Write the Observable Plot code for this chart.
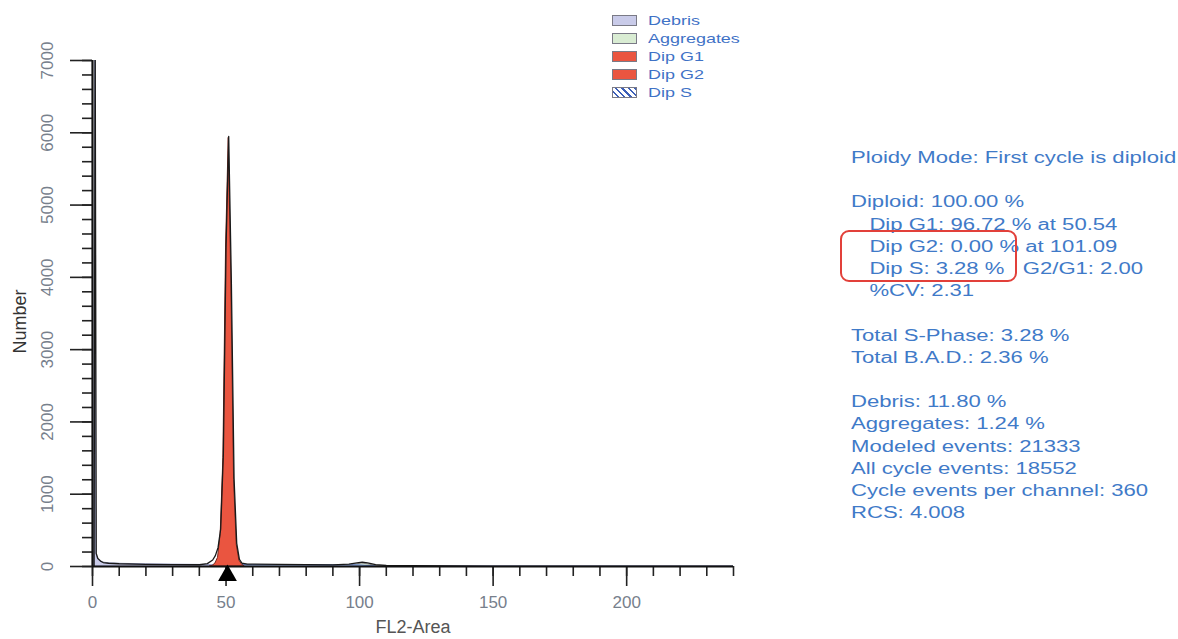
<!DOCTYPE html>
<html>
<head>
<meta charset="utf-8">
<script src="https://cdn.jsdelivr.net/npm/d3@7"></script>
<script src="https://cdn.jsdelivr.net/npm/@observablehq/plot@0.6"></script>
<style>
  body { margin: 0; background: #fff; font-family: "Liberation Sans", Arial, sans-serif; }
  #wrap { position: relative; width: 1178px; height: 639px; overflow: hidden; }
  #chart { position: absolute; left: 0; top: 0; }
  .legend { position: absolute; left: 612px; top: 11px; font-size: 13.5px; color: #3f72c6; }
  .legend .row { height: 18px; display: flex; align-items: center; }
  .legend .sw { width: 25px; height: 11px; box-sizing: border-box; border: 1.5px solid #7a7a86; margin-right: 11px; flex: none; }
  .legend .lab { display: inline-block; transform: scaleX(1.33); transform-origin: left center; }
  .stats { position: absolute; left: 851px; top: 147px; font-size: 16px; line-height: 22.2px; color: #3f7ac8; white-space: pre; transform: scaleX(1.38); transform-origin: left top; }
  .box { position: absolute; left: 840px; top: 230px; width: 177px; height: 52px; border: 2px solid #e2403a; border-radius: 9px; box-sizing: border-box; }
</style>
</head>
<body>
<div id="wrap">
  <div id="chart"></div>
  <div class="legend" id="legend"></div>
  <div class="stats" id="stats"></div>
  <div class="box"></div>
</div>
<script>
// ---- Data ----
const debrisX = [0.6, 1.0, 1.4, 2, 3, 4, 6, 10, 20, 30, 40, 50, 60, 80, 100, 150, 240];
const debrisY = [0, 7600, 180, 110, 75, 55, 45, 38, 30, 26, 22, 18, 12, 7, 4, 2, 0];

const aggX = [92, 96, 99, 101, 103, 106, 110];
const aggY = [0, 10, 30, 40, 30, 10, 0];

const sX = [47, 50, 55, 60, 70, 80, 90, 95, 100, 103, 106];
const sY = [0, 18, 20, 20, 20, 19, 18, 18, 17, 8, 0];

const g1X = [44, 45, 46, 47, 48, 49, 50, 51, 52, 53, 54, 55, 56, 57];
const g1Y = [0, 10, 40, 120, 450, 1500, 4400, 5930, 3900, 1200, 300, 80, 25, 0];

const totalX = [0.6, 1.0, 1.4, 2, 3, 4, 6, 10, 20, 30, 40, 43, 45, 46, 47, 48, 49, 50, 51, 52, 53, 54, 55, 56, 58, 60, 70, 80, 90, 96, 99, 101, 103, 106, 110, 150, 240];
const totalY = [0, 7600, 180, 110, 75, 55, 45, 38, 30, 26, 24, 40, 90, 150, 260, 520, 1560, 4420, 5950, 3920, 1220, 320, 100, 45, 32, 32, 30, 26, 22, 32, 50, 60, 50, 26, 14, 2, 0];

const g1Mean = [50.54];

const xTickLabels = [0, 50, 100, 150, 200];
const yTickLabels = [0, 1000, 2000, 3000, 4000, 5000, 6000, 7000];
const xMinorTicks = [0, 10, 20, 30, 40, 50, 60, 70, 80, 90, 100, 110, 120, 130, 140, 150, 160, 170, 180, 190, 200, 210, 220, 230, 240];

const legendNames = ["Debris", "Aggregates", "Dip G1", "Dip G2", "Dip S"];
const legendFills = ["#c9cbe9", "#d9ecd3", "#ea5540", "#ea5540", "hatch"];

const statLines = [
  "Ploidy Mode: First cycle is diploid",
  "",
  "Diploid: 100.00 %",
  "   Dip G1: 96.72 % at 50.54",
  "   Dip G2: 0.00 % at 101.09",
  "   Dip S: 3.28 %   G2/G1: 2.00",
  "   %CV: 2.31",
  "",
  "Total S-Phase: 3.28 %",
  "Total B.A.D.: 2.36 %",
  "",
  "Debris: 11.80 %",
  "Aggregates: 1.24 %",
  "Modeled events: 21333",
  "All cycle events: 18552",
  "Cycle events per channel: 360",
  "RCS: 4.008"
];

const zip = (xs, ys) => xs.map((x, i) => ({x, y: ys[i]}));
const debris = zip(debrisX, debrisY);
const agg = zip(aggX, aggY);
const sPhase = zip(sX, sY);
const g1 = zip(g1X, g1Y);
const total = zip(totalX, totalY);

const tickColor = "#77808c";

const plot = Plot.plot({
  width: 760,
  height: 639,
  marginLeft: 92,
  marginRight: 27,
  marginTop: 60,
  marginBottom: 73,
  style: { fontFamily: "Liberation Sans, Arial, sans-serif", background: "transparent", overflow: "visible" },
  x: { domain: [0, 240], label: null },
  y: { domain: [0, 7000], label: null },
  marks: [
    Plot.areaY(debris, {x: "x", y1: 0, y2: "y", fill: "#c9cbe9", stroke: "#9aa0c8", strokeWidth: 1, clip: true}),
    Plot.areaY(agg, {x: "x", y1: 0, y2: "y", fill: "#d9ecd3", stroke: "#888", strokeWidth: 1}),
    Plot.areaY(sPhase, {x: "x", y1: 0, y2: "y", fill: "#dfe6f5", stroke: "#4a6fc0", strokeWidth: 0.8}),
    Plot.areaY(g1, {x: "x", y1: 0, y2: "y", fill: "#ea5540", stroke: "#7a2a20", strokeWidth: 1}),
    Plot.line(total, {x: "x", y: "y", stroke: "#1a1a1a", strokeWidth: 1.3, clip: true}),
    // axes
    Plot.axisX({ticks: xMinorTicks, tickSize: 10, text: null, label: null, stroke: "#222", strokeWidth: 1.6}),
    Plot.axisX({ticks: xTickLabels, tickSize: 20, tickPadding: 9, stroke: "#222", strokeWidth: 1.6, fontSize: 17, color: tickColor, label: null}),
    Plot.axisY({ticks: d3.range(0, 7001, 200), tickSize: 10, text: null, label: null, stroke: "#222", strokeWidth: 1.6}),
    Plot.axisY({ticks: yTickLabels, tickSize: 22, text: null, label: null, stroke: "#222", strokeWidth: 1.6}),
    Plot.text(yTickLabels, {y: d => d, frameAnchor: "left", dx: -45, rotate: -90, text: d => String(d), textAnchor: "middle", lineAnchor: "middle", fontSize: 17, fill: tickColor}),
    Plot.ruleY([0], {stroke: "#111", strokeWidth: 2.2}),
    Plot.ruleX([0], {stroke: "#111", strokeWidth: 2.2}),
    Plot.dot(g1Mean, {x: d => d, y: 0, symbol: "triangle", r: 7, fill: "#000", stroke: "none", dy: 9}),
    Plot.text(["Number"], {frameAnchor: "left", dx: -72, rotate: -90, dy: 8, text: d => d, fontSize: 18, fill: "#333", textAnchor: "middle", lineAnchor: "middle"}),
    Plot.text(["FL2-Area"], {frameAnchor: "bottom", dy: 61, text: d => d, fontSize: 18, fill: "#555", lineAnchor: "middle", letterSpacing: "1px"})
  ]
});
document.getElementById("chart").appendChild(plot);

const leg = document.getElementById("legend");
legendNames.forEach((name, i) => {
  const row = document.createElement("div");
  row.className = "row";
  const sw = document.createElement("div");
  sw.className = "sw";
  if (legendFills[i] === "hatch") {
    sw.style.background = "repeating-linear-gradient(45deg, #fff 0 3px, #3d5fb8 3px 4.5px)";
  } else {
    sw.style.background = legendFills[i];
  }
  const label = document.createElement("span");
  label.className = "lab";
  label.textContent = name;
  row.appendChild(sw);
  row.appendChild(label);
  leg.appendChild(row);
});

document.getElementById("stats").textContent = statLines.join("\n");
</script>
</body>
</html>
